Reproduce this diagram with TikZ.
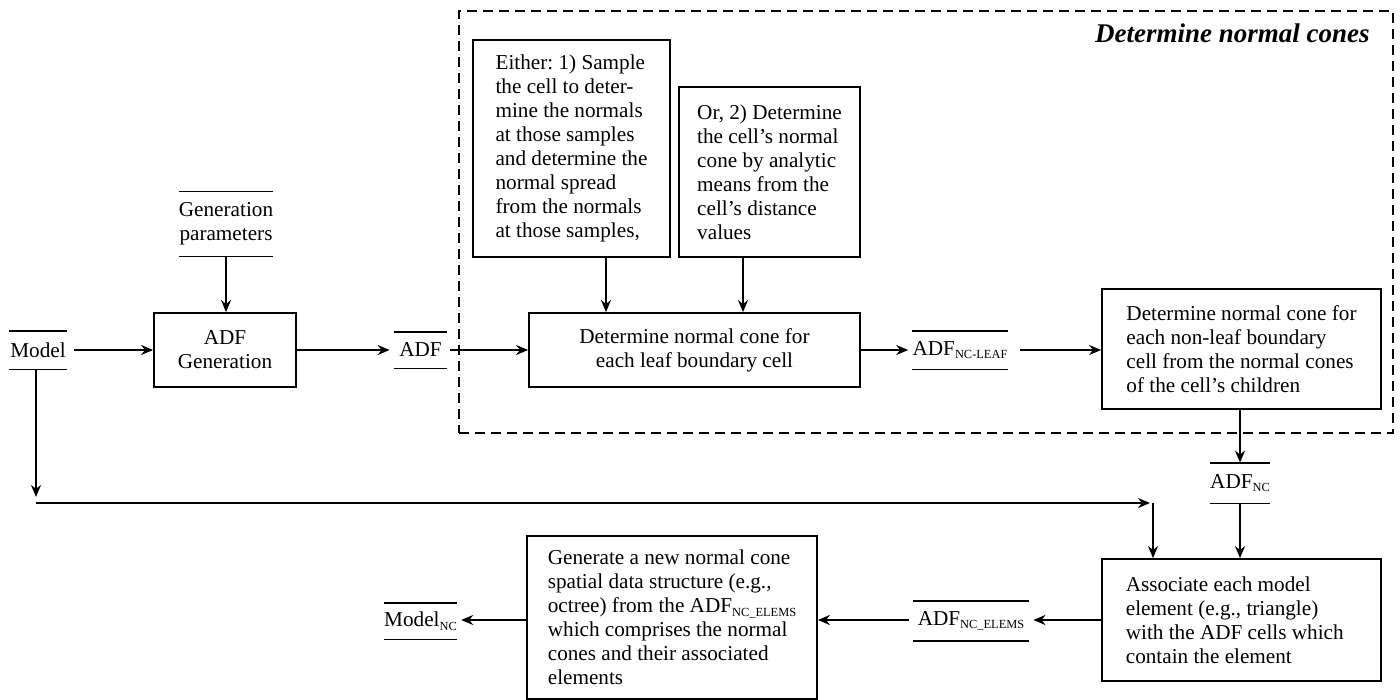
\documentclass[tikz,border=0pt]{standalone}
\usepackage{fontspec}
\setmainfont{Liberation Serif}
\usetikzlibrary{arrows.meta}
\newcommand{\bodyfont}{\fontsize{10.6}{12}\selectfont\frenchspacing}
\newcommand{\lsub}[1]{\raisebox{-0.35ex}{\fontsize{6.2}{7}\selectfont #1}}
\begin{document}
\begin{tikzpicture}[x=0.5pt,y=-0.5pt,
  box/.style={draw, line width=0.9pt, inner sep=0pt, font=\bodyfont},
  lab/.style={inner sep=0pt, font=\bodyfont},
  arr/.style={line width=0.9pt, -{Stealth[length=6pt,width=5pt]}},
  bar/.style={line width=0.9pt},
  grp/.style={draw, line width=0.9pt, dash pattern=on 5pt off 3pt, inner sep=0pt},
]
\useasboundingbox (0,0) rectangle (1400,700);

% group frame
\node[grp, minimum width=467pt, minimum height=211pt] (frame) at (926,222) {};
\node[anchor=base east, inner sep=0pt, font=\fontsize{13.5}{16}\selectfont\bfseries\itshape] (title) at (1370,43) {Determine normal cones};

% data labels
\node[lab, minimum width=46pt, minimum height=32pt, align=center] (gp) at (226,224) {Generation\\parameters};
\node[lab, minimum width=29pt, minimum height=19pt] (model) at (38,350) {Model};
\node[lab, minimum width=26.5pt, minimum height=18pt] (adf) at (420.5,350) {ADF};
\node[lab, minimum width=47pt, minimum height=19pt] (adfleaf) at (960,350) {ADF\lsub{NC-LEAF}};
\node[lab, minimum width=30pt, minimum height=20pt] (adfnc) at (1240,483) {ADF\lsub{NC}};
\node[lab, minimum width=58pt, minimum height=19.5pt] (adfelems) at (971,621) {ADF\lsub{NC\_ELEMS}};
\node[lab, minimum width=33.5pt, minimum height=18pt] (modelnc) at (420.5,621) {Model\lsub{NC}};
\foreach \n in {gp,model,adf,adfleaf,adfnc,adfelems,modelnc}
  \draw[bar] (\n.north west) -- (\n.north east) (\n.south west) -- (\n.south east);

% process boxes
\node[box, minimum width=71pt, minimum height=37pt, align=center] (adfgen) at (225,350) {ADF\\Generation};
\node[box, minimum width=98.5pt, minimum height=108.5pt, align=left] (either) at (571.5,148.5)
  {Either: 1) Sample\\the cell to deter-\\mine the normals\\at those samples\\and determine the\\normal spread\\from the normals\\at those samples,};
\node[box, minimum width=90.5pt, minimum height=85pt, align=left] (orbox) at (769.5,172)
  {Or, 2) Determine\\the cell’s normal\\cone by analytic\\means from the\\cell’s distance\\values};
\node[box, minimum width=165.5pt, minimum height=37pt, align=center] (leaf) at (694.5,350)
  {Determine normal cone for\\each leaf boundary cell};
\node[box, minimum width=139.5pt, minimum height=60pt, align=left] (nonleaf) at (1241.5,349)
  {Determine normal cone for\\each non-leaf boundary\\cell from the normal cones\\of the cell’s children};
\node[box, minimum width=139.5pt, minimum height=61pt, align=left] (assoc) at (1241.5,620)
  {Associate each model\\element (e.g., triangle)\\with the ADF cells which\\contain the element\phantom{s which}};
\node[box, minimum width=145pt, minimum height=81.5pt, align=left] (gen) at (672,617.5)
  {Generate a new normal cone\\spatial data structure (e.g.,\\octree) from the ADF\lsub{NC\_ELEMS}\\which comprises the normal\\cones and their associated\\elements};

% helper coordinates
\coordinate (ax1) at (606,0);
\coordinate (ax2) at (743,0);
\coordinate (md) at (36,497);
\coordinate (ms) at (36,503);
\coordinate (me) at (1150,503);
\coordinate (mj) at (1153,503);
\coordinate (ry) at (0,620);
\coordinate (ty) at (0,350);

% connectors
\draw[arr] (gp.south) -- (gp.south |- adfgen.north);
\draw[arr] ([xshift=3.5pt]model.east |- ty) -- (adfgen.west |- ty);
\draw[arr] (adfgen.east |- ty) -- ([xshift=-2pt]adf.west |- ty);
\draw[arr] ([xshift=1.5pt]adf.east |- ty) -- (leaf.west |- ty);
\draw[arr] (either.south -| ax1) -- (leaf.north -| ax1);
\draw[arr] (orbox.south -| ax2) -- (leaf.north -| ax2);
\draw[arr] (leaf.east |- ty) -- ([xshift=-2pt]adfleaf.west |- ty);
\draw[arr] ([xshift=6pt]adfleaf.east |- ty) -- (nonleaf.west |- ty);
\draw[arr] (nonleaf.south -| adfnc.north) -- (adfnc.north);
\draw[arr] (model.south -| md) -- (md);
\draw[arr] (ms) -- (me);
\draw[arr] (mj) -- (mj |- assoc.north);
\draw[arr] (adfnc.south) -- (adfnc.south |- assoc.north);
\draw[arr] (assoc.west |- ry) -- ([xshift=2pt]adfelems.east |- ry);
\draw[arr] ([xshift=-2pt]adfelems.west |- ry) -- (gen.east |- ry);
\draw[arr] (gen.west |- ry) -- ([xshift=2pt]modelnc.east |- ry);
\end{tikzpicture}
\end{document}
